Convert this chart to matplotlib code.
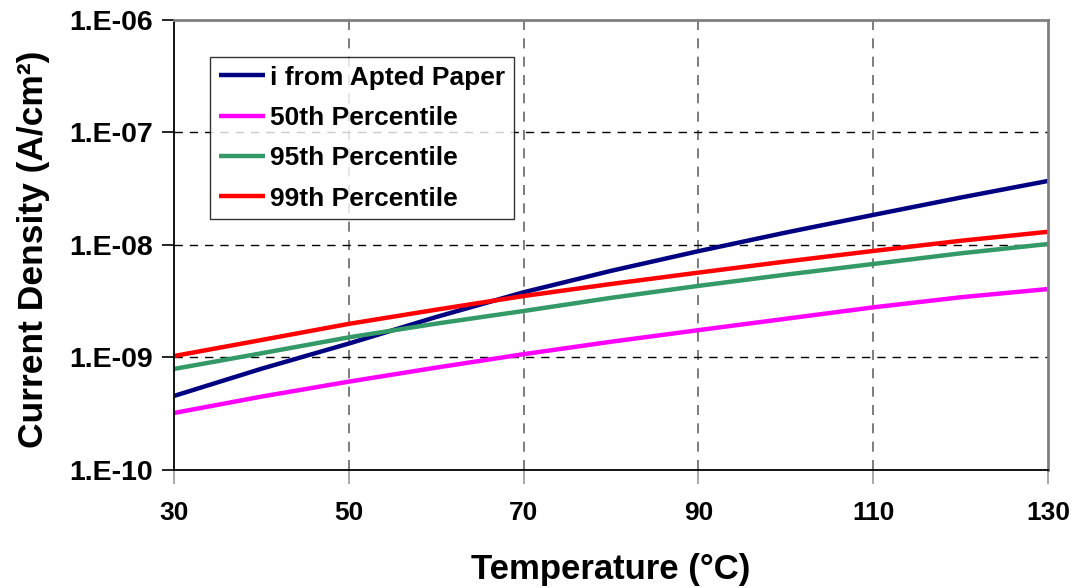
import matplotlib
matplotlib.use("Agg")
import matplotlib.pyplot as plt
from matplotlib.ticker import FixedLocator, FixedFormatter, NullLocator

plt.rcParams['font.family'] = ['Liberation Sans', 'DejaVu Sans']
plt.rcParams['font.weight'] = 'bold'

temperature = [30, 40, 50, 60, 70, 80, 90, 100, 110, 120, 130]
apted = [4.55e-10, 7.94e-10, 1.33e-9, 2.29e-9, 3.80e-9, 5.89e-9,
         8.81e-9, 1.29e-8, 1.85e-8, 2.64e-8, 3.71e-8]
p50 = [3.21e-10, 4.49e-10, 6.10e-10, 8.13e-10, 1.07e-9, 1.38e-9,
       1.75e-9, 2.21e-9, 2.79e-9, 3.43e-9, 4.06e-9]
p95 = [7.91e-10, 1.09e-9, 1.51e-9, 2.00e-9, 2.59e-9, 3.39e-9,
       4.33e-9, 5.45e-9, 6.78e-9, 8.43e-9, 1.02e-8]
p99 = [1.03e-9, 1.43e-9, 1.99e-9, 2.66e-9, 3.52e-9, 4.50e-9,
       5.68e-9, 7.13e-9, 8.85e-9, 1.09e-8, 1.31e-8]

x_ticks = [30, 50, 70, 90, 110, 130]
y_ticks = [1e-10, 1e-9, 1e-8, 1e-7, 1e-6]
y_tick_labels = ["1.E-10", "1.E-09", "1.E-08", "1.E-07", "1.E-06"]

series = [
    ("i from Apted Paper", apted, "#000080"),
    ("50th Percentile", p50, "#FF00FF"),
    ("95th Percentile", p95, "#339966"),
    ("99th Percentile", p99, "#FF0000"),
]

fig = plt.figure(figsize=(10.76, 5.88), dpi=100)
ax = fig.add_axes([0.1617, 0.2007, 0.8123, 0.7653])

for label, values, color in series:
    ax.plot(temperature, values, color=color, lw=3.2, label=label,
            solid_capstyle='butt')

ax.set_yscale('log')
ax.set_xlim(30, 130)
ax.set_ylim(1e-10, 1e-6)

ax.xaxis.set_major_locator(FixedLocator(x_ticks))
ax.yaxis.set_major_locator(FixedLocator(y_ticks))
ax.yaxis.set_major_formatter(FixedFormatter(y_tick_labels))
ax.yaxis.set_minor_locator(NullLocator())

ax.tick_params(axis='y', which='major', labelsize=20.5, direction='out',
               length=9, width=1.2, color='black', pad=6)
ax.tick_params(axis='x', which='major', labelsize=19, direction='out',
               length=10, width=1.2, color='#999999', pad=12)
for lab in ax.get_yticklabels() + ax.get_xticklabels():
    lab.set_fontweight('bold')

# dashed grid: vertical lines lighter than horizontal ones
for xv in x_ticks[1:-1]:
    ax.axvline(xv, color='#666666', lw=1.2, ls=(0, (6, 5)), zorder=0)
for yv in y_ticks[1:-1]:
    ax.axhline(yv, color='black', lw=1.0, ls=(0, (6, 5)), zorder=0)

ax.spines['left'].set_color('black')
ax.spines['bottom'].set_color('black')
ax.spines['left'].set_linewidth(1.3)
ax.spines['bottom'].set_linewidth(1.3)
ax.spines['top'].set_color('#808080')
ax.spines['right'].set_color('#808080')
ax.spines['top'].set_linewidth(2)
ax.spines['right'].set_linewidth(2)

ax.set_xlabel("Temperature (°C)", fontsize=25, fontweight='bold', va='top')
ax.xaxis.set_label_coords(0.5, -0.185)
ax.set_ylabel("Current Density (A/cm²)", fontsize=25.5, fontweight='bold')
ax.yaxis.set_label_coords(-0.142, 0.49)

leg = ax.legend(loc='upper left', bbox_to_anchor=(0.0412, 0.918), frameon=True,
                fancybox=False, edgecolor='black',
                prop={'weight': 'bold', 'size': 19}, handlelength=1.75,
                handletextpad=0.2, labelspacing=0.62, borderpad=0.33,
                borderaxespad=0)
leg.get_frame().set_linewidth(1.0)

fig.savefig("out.png", dpi=100, facecolor='white')
